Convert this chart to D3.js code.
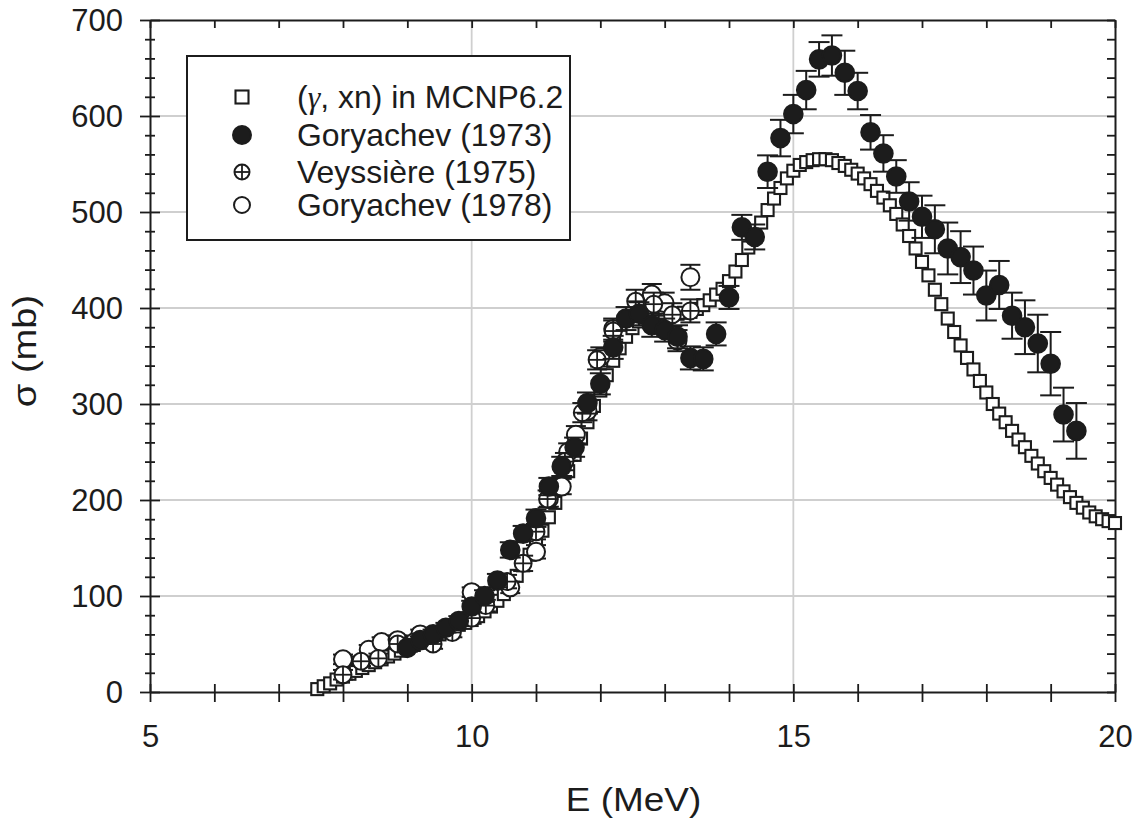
<!DOCTYPE html>
<html><head><meta charset="utf-8">
<script src="https://cdn.jsdelivr.net/npm/d3@7"></script>
<style>body{margin:0;background:#fff}</style>
</head><body><svg id="c" width="1137" height="823"></svg>
<script>
// ---------- DATA ----------
const xTickValues=[5,6,7,8,9,10,11,12,13,14,15,16,17,18,19,20];
const xTickLabels=[5,10,15,20];
const yTickValues=[0,20,40,60,80,100,120,140,160,180,200,220,240,260,280,300,320,340,360,380,400,420,440,460,480,500,520,540,560,580,600,620,640,660,680,700];
const yTickLabels=[0,100,200,300,400,500,600,700];
const xGridValues=[10,15];
const yGridValues=[100,200,300,400,500,600];

const legendLabels=["(γ, xn) in MCNP6.2","Goryachev (1973)","Veyssière (1975)","Goryachev (1978)"];

// (γ, xn) in MCNP6.2
const mcnpE=[7.6,7.7,7.8,7.9,8.0,8.1,8.2,8.3,8.4,8.5,8.6,8.7,8.8,8.9,9.0,9.1,9.2,9.3,9.4,9.5,9.6,9.7,9.8,9.9,
10.0,10.1,10.2,10.3,10.4,10.5,10.6,10.7,10.8,10.9,11.0,11.1,11.2,11.3,11.4,11.5,11.6,11.7,11.8,11.9,
12.0,12.1,12.2,12.3,12.4,12.5,12.6,12.7,12.8,12.9,13.0,13.1,13.2,13.3,13.4,13.5,13.6,13.7,13.8,13.9,
14.0,14.1,14.2,14.3,14.4,14.5,14.6,14.7,14.8,14.9,15.0,15.1,15.2,15.3,15.4,15.5,15.6,15.7,15.8,15.9,
16.0,16.1,16.2,16.3,16.4,16.5,16.6,16.7,16.8,16.9,17.0,17.1,17.2,17.3,17.4,17.5,17.6,17.7,17.8,17.9,
18.0,18.1,18.2,18.3,18.4,18.5,18.6,18.7,18.8,18.9,19.0,19.1,19.2,19.3,19.4,19.5,19.6,19.7,19.8,19.9,20.0];
const mcnpS=[3,6,9,13,16,19,22,25,28,31,34,37,40,43,46,49,52,55,57,60,63,66,70,72,
75,79,84,89,95,102,111,121,132,143,155,168,182,197,213,230,247,264,281,298,
314,330,345,358,370,379,386,390,393,394,394,394,394,395,396,399,403,408,414,420,
428,438,450,463,476,489,502,514,525,535,543,549,552,554,555,555,554,551,548,544,
540,535,529,522,515,507,498,487,475,462,448,434,419,404,389,375,361,348,336,324,
312,300,290,281,272,263,255,246,238,230,223,216,209,203,197,192,187,183,180,178,176];

// Goryachev (1973)
const g73E=[9.0,9.2,9.4,9.6,9.8,10.0,10.2,10.4,10.6,10.8,11.0,11.2,11.4,11.6,11.8,12.0,12.2,12.4,12.6,12.8,
13.0,13.2,13.4,13.6,13.8,14.0,14.2,14.4,14.6,14.8,15.0,15.2,15.4,15.6,15.8,16.0,16.2,16.4,16.6,16.8,
17.0,17.2,17.4,17.6,17.8,18.0,18.2,18.4,18.6,18.8,19.0,19.2,19.4];
const g73S=[46,54,60,67,74,89,100,116,148,165,181,214,235,255,301,321,359,389,394,382,
377,370,348,347,373,411,484,474,542,577,602,627,659,663,645,626,583,561,537,511,
495,482,462,453,439,413,424,392,380,363,342,289,272];
const g73Err=[4,4,5,5,5,6,6,7,8,8,9,9,10,10,11,11,12,12,12,12,
12,12,12,12,12,12,13,13,17,19,20,20,18,21,23,19,18,19,17,20,
22,25,27,27,25,26,25,24,28,30,33,28,29];

// Veyssière (1975)
const veyE=[8.0,8.28,8.55,8.85,9.1,9.4,9.7,10.0,10.22,10.55,10.8,11.0,11.18,11.45,11.72,11.95,12.2,12.55,12.83,13.12,13.4];
const veyS=[18,32,35,50,52,50,62,77,90,115,134,167,201,240,291,346,376,407,404,393,397];
const veyErr=[5,5,5,5,5,5,5,6,6,7,8,8,9,9,10,10,11,12,12,12,12];

// Goryachev (1978)
const g78E=[8.0,8.4,8.6,8.85,9.2,10.0,10.6,11.0,11.2,11.4,11.5,11.62,11.8,12.0,12.2,12.8,13.0,13.2,13.4];
const g78S=[34,44,52,54,60,104,109,146,201,214,250,268,293,349,378,414,405,366,432];
const g78Err=[5,5,5,5,5,5,6,7,8,8,9,9,10,10,11,11,11,11,13];

// ---------- CHART ----------
const svg=d3.select("#c");
const x=d3.scaleLinear().domain([5,20]).range([150,1115]);
const y=d3.scaleLinear().domain([0,700]).range([692,20]);
const ink="#1c1c1c";
const FONT="'Liberation Sans', Arial, Helvetica, sans-serif";

// grid
svg.append("g").selectAll("line").data(xGridValues).join("line")
  .attr("x1",d=>x(d)).attr("x2",d=>x(d)).attr("y1",y(0)).attr("y2",y(700))
  .attr("stroke","#cfcfcf").attr("stroke-width",1.8);
svg.append("g").selectAll("line").data(yGridValues).join("line")
  .attr("y1",d=>y(d)).attr("y2",d=>y(d)).attr("x1",x(5)).attr("x2",x(20))
  .attr("stroke","#cfcfcf").attr("stroke-width",1.8);

function styleAxis(g){
  g.attr("font-family",FONT).attr("font-size",31);
  g.select(".domain").attr("stroke",ink).attr("stroke-width",2);
  g.selectAll(".tick line").attr("stroke",ink).attr("stroke-width",1.8);
  g.selectAll(".tick text").attr("fill",ink);
}
// bottom
const gb=svg.append("g").attr("transform",`translate(0,${y(0)})`)
  .call(d3.axisBottom(x).tickValues(xTickValues).tickSize(10).tickSizeOuter(0)
    .tickFormat(d=>xTickLabels.includes(d)?d:""));
styleAxis(gb);
gb.selectAll(".tick line").attr("y1",-8);
gb.selectAll(".tick text").attr("y",33).attr("dy","0.71em");
// top
const gt=svg.append("g").attr("transform",`translate(0,${y(700)})`)
  .call(d3.axisTop(x).tickValues(xTickValues).tickSize(-8).tickSizeOuter(0).tickFormat(""));
styleAxis(gt);
// left
const gl=svg.append("g").attr("transform",`translate(${x(5)},0)`)
  .call(d3.axisLeft(y).tickValues(yTickValues).tickSize(10).tickSizeOuter(0)
    .tickFormat(d=>yTickLabels.includes(d)?d:""));
styleAxis(gl);
gl.selectAll(".tick line").attr("x1",d=>yTickLabels.includes(d)?10:5).attr("x2",d=>yTickLabels.includes(d)?-10:-5);
gl.selectAll(".tick text").attr("x",-27).attr("dy","0.35em");
// right
const gr=svg.append("g").attr("transform",`translate(${x(20)},0)`)
  .call(d3.axisRight(y).tickValues(yTickValues).tickSize(-8).tickSizeOuter(0).tickFormat(""));
styleAxis(gr);

// axis titles
svg.append("text").attr("transform",`translate(${x(12.5)+1},811) scale(1.12,1)`)
  .attr("text-anchor","middle").attr("font-family",FONT).attr("font-size",33).attr("fill",ink)
  .text("E (MeV)");
svg.append("text").attr("transform",`translate(36,351) rotate(-90) scale(1.12,1)`)
  .attr("text-anchor","middle").attr("font-family",FONT).attr("font-size",34).attr("fill",ink)
  .text("σ (mb)");

// marker helpers
function square(g,cx,cy,s){
  g.append("rect").attr("x",cx-s/2).attr("y",cy-s/2).attr("width",s).attr("height",s)
   .attr("fill","#fff").attr("stroke",ink).attr("stroke-width",2.1);
}
function dot(g,cx,cy,r,filled){
  g.append("circle").attr("cx",cx).attr("cy",cy).attr("r",r)
   .attr("fill",filled?ink:"#fff").attr("stroke",ink).attr("stroke-width",2);
}
function crossDot(g,cx,cy,r){
  dot(g,cx,cy,r,false);
  g.append("line").attr("x1",cx-r).attr("x2",cx+r).attr("y1",cy).attr("y2",cy).attr("stroke",ink).attr("stroke-width",1.8);
  g.append("line").attr("x1",cx).attr("x2",cx).attr("y1",cy-r).attr("y2",cy+r).attr("stroke",ink).attr("stroke-width",1.8);
}
function errBars(g,E,S,Er,cap){
  E.forEach((e,i)=>{
    const cx=x(e), y1=y(S[i]+Er[i]), y2=y(S[i]-Er[i]);
    g.append("line").attr("x1",cx).attr("x2",cx).attr("y1",y1).attr("y2",y2).attr("stroke",ink).attr("stroke-width",2);
    g.append("line").attr("x1",cx-cap).attr("x2",cx+cap).attr("y1",y1).attr("y2",y1).attr("stroke",ink).attr("stroke-width",2);
    g.append("line").attr("x1",cx-cap).attr("x2",cx+cap).attr("y1",y2).attr("y2",y2).attr("stroke",ink).attr("stroke-width",2);
  });
}

const plot=svg.append("g");
// MCNP squares
const gS=plot.append("g");
mcnpE.forEach((e,i)=>square(gS,x(e),y(mcnpS[i]),12));
// Goryachev 1978 open circles
const g78=plot.append("g");
errBars(g78,g78E,g78S,g78Err,10);
g78E.forEach((e,i)=>dot(g78,x(e),y(g78S[i]),9,false));
// Veyssière crossed circles
const gv=plot.append("g");
errBars(gv,veyE,veyS,veyErr,10);
veyE.forEach((e,i)=>crossDot(gv,x(e),y(veyS[i]),8.5));
// Goryachev 1973 filled
const g73=plot.append("g");
errBars(g73,g73E,g73S,g73Err,10.5);
g73E.forEach((e,i)=>dot(g73,x(e),y(g73S[i]),9.3,true));

// legend
const lg=svg.append("g");
lg.append("rect").attr("x",187).attr("y",56).attr("width",383).attr("height",184)
  .attr("fill","#fff").attr("stroke",ink).attr("stroke-width",2);
const rows=[97,135,172,205];
square(lg,242,rows[0],13);
dot(lg,242,rows[1],9,true);
crossDot(lg,242,rows[2],7.5);
dot(lg,242,rows[3],8,false);
legendLabels.forEach((t,i)=>{
  const tx=lg.append("text").attr("transform",`translate(297,${rows[i]+11}) scale(1.03,1)`)
    .attr("font-family",FONT).attr("font-size",31).attr("fill",ink);
  if(i===0){
    tx.append("tspan").text("(");
    tx.append("tspan").attr("font-family","'Liberation Serif', 'Times New Roman', serif").attr("font-style","italic").text("γ");
    tx.append("tspan").text(", xn) in MCNP6.2");
  } else tx.text(t);
});
</script>
</body></html>
